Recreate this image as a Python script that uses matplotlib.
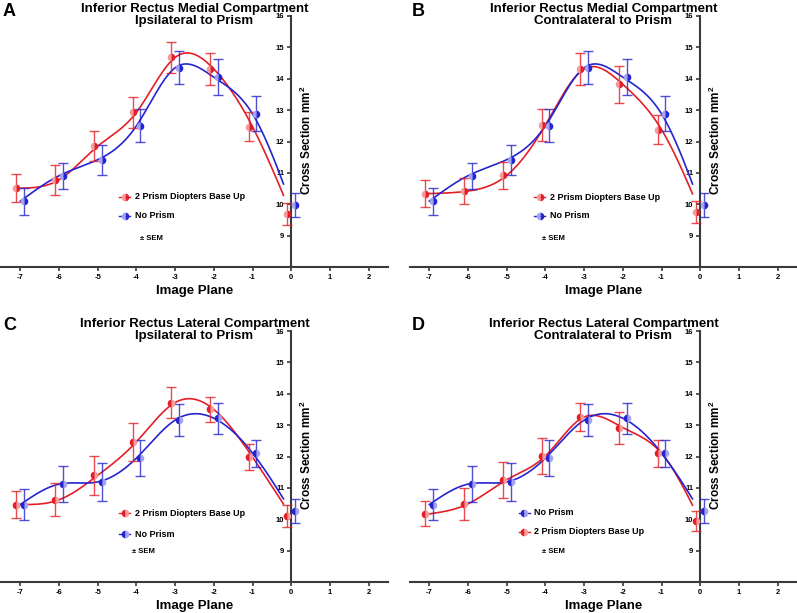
import numpy as np
import matplotlib
matplotlib.use("Agg")
import matplotlib.pyplot as plt

plt.rcParams["font.family"] = ["Liberation Sans", "DejaVu Sans"]
plt.rcParams["mathtext.fontset"] = "custom"
plt.rcParams["mathtext.rm"] = "Liberation Sans"
plt.rcParams["mathtext.bf"] = "Liberation Sans:bold"
plt.rcParams["axes.unicode_minus"] = False

planes = np.array([-7, -6, -5, -4, -3, -2, -1, 0])

# medial compartment
med_ipsi_prism = [10.51, 10.78, 11.85, 12.93, 14.68, 14.31, 12.47, 9.69]
med_ipsi_prism_sem = [0.45, 0.47, 0.47, 0.50, 0.50, 0.50, 0.46, 0.35]
med_contra_prism = [10.34, 10.42, 10.92, 12.53, 14.31, 13.82, 12.38, 9.75]
med_contra_prism_sem = [0.42, 0.42, 0.42, 0.50, 0.50, 0.59, 0.46, 0.36]
med_noprism = [10.10, 10.91, 11.42, 12.50, 14.35, 14.05, 12.88, 9.98]
med_noprism_sem = [0.43, 0.42, 0.48, 0.53, 0.52, 0.57, 0.56, 0.38]

# lateral compartment
lat_ipsi_prism = [10.47, 10.62, 11.40, 12.47, 13.72, 13.50, 11.98, 10.10]
lat_ipsi_prism_sem = [0.42, 0.52, 0.62, 0.60, 0.49, 0.40, 0.42, 0.35]
lat_contra_prism = [10.17, 10.49, 11.26, 12.02, 13.26, 12.92, 12.10, 9.95]
lat_contra_prism_sem = [0.40, 0.50, 0.58, 0.57, 0.46, 0.51, 0.42, 0.32]
lat_noprism = [10.47, 11.12, 11.19, 11.95, 13.16, 13.22, 12.11, 10.25]
lat_noprism_sem = [0.48, 0.57, 0.60, 0.57, 0.50, 0.50, 0.43, 0.38]

titles = ["Inferior Rectus Medial Compartment\nIpsilateral to Prism",
          "Inferior Rectus Medial Compartment\nContralateral to Prism",
          "Inferior Rectus Lateral Compartment\nIpsilateral to Prism",
          "Inferior Rectus Lateral Compartment\nContralateral to Prism"]
letters = ["A", "B", "C", "D"]
prism_label = "2 Prism Diopters Base Up"
noprism_label = "No Prism"

RED = "#e41e26"
RED_LT = "#f59a9d"
BLUE = "#2424d0"
BLUE_LT = "#a3a3f0"


def natural_spline(x, y, xs):
    x = np.asarray(x, float)
    y = np.asarray(y, float)
    n = len(x)
    h = np.diff(x)
    A = np.zeros((n, n))
    rhs = np.zeros(n)
    A[0, 0] = A[-1, -1] = 1
    for k in range(1, n - 1):
        A[k, k - 1] = h[k - 1]
        A[k, k] = 2 * (h[k - 1] + h[k])
        A[k, k + 1] = h[k]
        rhs[k] = 6 * ((y[k + 1] - y[k]) / h[k] - (y[k] - y[k - 1]) / h[k - 1])
    m = np.linalg.solve(A, rhs)
    idx = np.clip(np.searchsorted(x, xs) - 1, 0, n - 2)
    x0, x1 = x[idx], x[idx + 1]
    hh = x1 - x0
    a = (x1 - xs) / hh
    b = (xs - x0) / hh
    return (a * y[idx] + b * y[idx + 1]
            + ((a ** 3 - a) * m[idx] + (b ** 3 - b) * m[idx + 1]) * hh ** 2 / 6)


W, H = 797, 613
fig = plt.figure(figsize=(W / 100, H / 100), dpi=100)

# axes boxes in pixels: left, top, right, bottom
boxes = [(1, 16, 388, 267), (410, 16, 797, 267),
         (1, 331, 388, 582), (410, 331, 797, 582)]
# prism, sem, no prism, sem, fill side, legend (x, y1, y2), sem text (x, y), no-prism first
panels = [
    (med_ipsi_prism, med_ipsi_prism_sem, med_noprism, med_noprism_sem, "right",
     (-4.3, 10.24, 9.63), (-3.6, 8.9), False),
    (med_contra_prism, med_contra_prism_sem, med_noprism, med_noprism_sem, "right",
     (-4.15, 10.23, 9.64), (-3.8, 8.9), False),
    (lat_ipsi_prism, lat_ipsi_prism_sem, lat_noprism, lat_noprism_sem, "left",
     (-4.3, 10.19, 9.52), (-3.83, 8.97), False),
    (lat_contra_prism, lat_contra_prism_sem, lat_noprism, lat_noprism_sem, "left",
     (-4.55, 10.21, 9.6), (-3.8, 8.97), True),
]

xs = np.linspace(-7, -0.2, 300)

for i, (box, pan) in enumerate(zip(boxes, panels)):
    l, t, r, b = box
    ax = fig.add_axes([l / W, 1 - b / H, (r - l) / W, (b - t) / H])
    pv, pe, nv, ne, fs, leg, sem_pos, blue_first = pan

    series = [(pv, pe, RED, RED_LT, -0.1, prism_label),
              (nv, ne, BLUE, BLUE_LT, 0.1, noprism_label)]
    for vals, errs, dark, light, dx, lab in series:
        ax.plot(xs, natural_spline(planes, vals, xs), color=dark, lw=1.2, zorder=2)
        ax.errorbar(planes + dx, vals, yerr=errs, fmt="none", ecolor=dark,
                    elinewidth=1.0, capsize=3.5, capthick=1.0, alpha=0.8, zorder=3)
        ax.plot(planes + dx, vals, "o", ls="none", ms=5.5, fillstyle=fs,
                markerfacecolor=dark, markerfacecoloralt=light,
                markeredgewidth=0, zorder=4)

    ax.set_xlim(-7.5, 2.5)
    ax.set_ylim(8, 16)
    ax.spines["left"].set_position(("data", 0))
    ax.spines["right"].set_visible(False)
    ax.spines["top"].set_visible(False)
    for s in ("left", "bottom"):
        ax.spines[s].set_linewidth(1.5)
        ax.spines[s].set_color("#3a3a3a")
    ax.set_xticks(range(-7, 3))
    ax.set_yticks(range(9, 17))
    ax.tick_params(axis="both", labelsize=5.5, width=1.2, length=3,
                   color="#3a3a3a", pad=2)
    for tl in ax.get_xticklabels() + ax.get_yticklabels():
        tl.set_fontweight("bold")
    ax.set_xlabel("Image Plane", fontsize=9.5, fontweight="bold", labelpad=3)
    ax.text(0.4, 12.05, "Cross Section mm$^\\mathbf{2}$", rotation=90, ha="center",
            va="center", fontsize=8.5, fontweight="bold")
    ax.text(0.5, 1.003, titles[i], transform=ax.transAxes, ha="center", va="center",
            fontsize=9.5, fontweight="bold", linespacing=1.05)
    fig.text((l + 2) / W, 1 - (t - 5) / H, letters[i], fontsize=13, fontweight="bold",
             ha="left", va="center")

    order = series[::-1] if blue_first else series
    lx = leg[0]
    for k, (vals, errs, dark, light, dx, lab) in enumerate(order):
        yy = leg[1 + k]
        ax.plot([lx - 0.14, lx + 0.14], [yy, yy], color=dark, lw=1.0)
        ax.plot([lx], [yy], "o", ms=5.5, fillstyle=fs, markerfacecolor=dark,
                markerfacecoloralt=light, markeredgewidth=0)
        ax.text(lx + 0.26, yy, lab, ha="left", va="center", fontsize=6.5,
                fontweight="bold")
    ax.text(sem_pos[0], sem_pos[1], "± SEM", ha="center", va="center",
            fontsize=5.5, fontweight="bold")

fig.savefig("out.png", dpi=100)
